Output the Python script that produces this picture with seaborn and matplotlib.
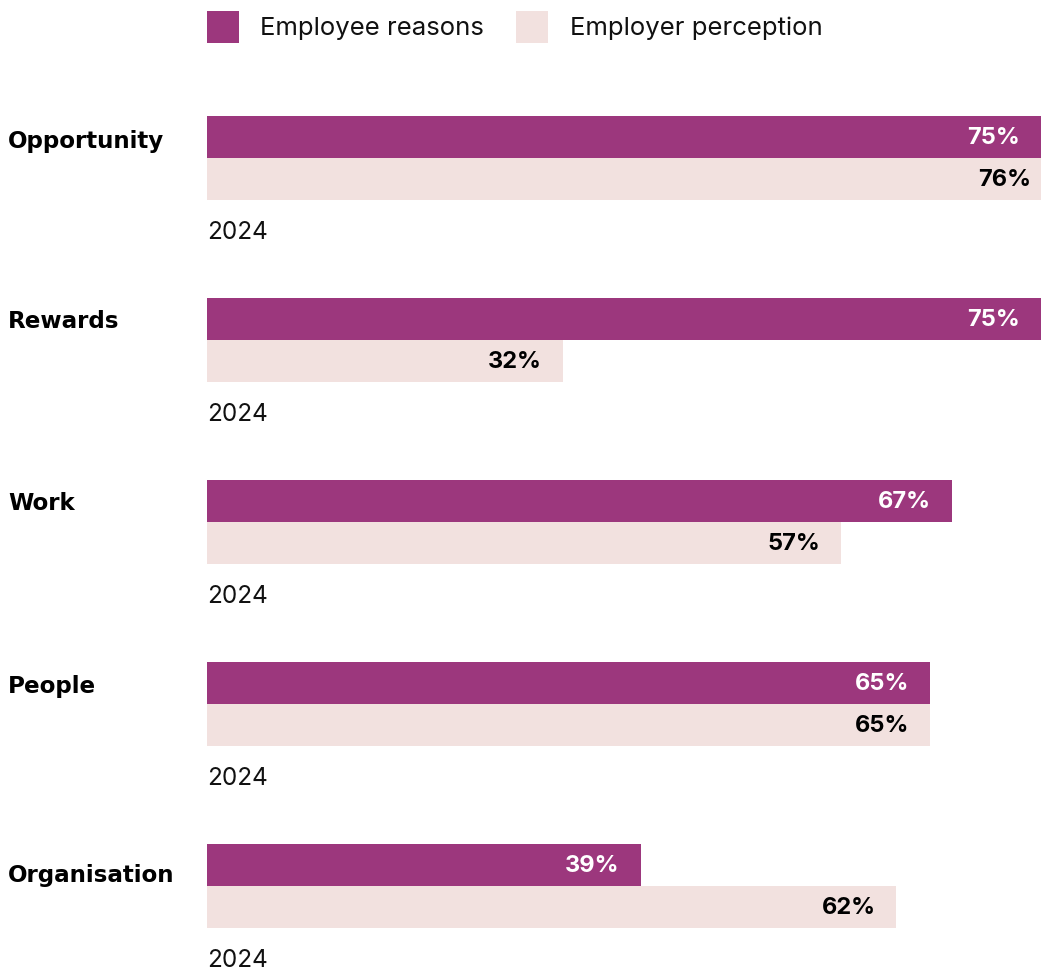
import matplotlib
matplotlib.use("Agg")
import matplotlib.pyplot as plt
import matplotlib.transforms as mtransforms
from matplotlib.patches import Rectangle
import pandas as pd
import seaborn as sns

# Reasons for leaving: what employees say vs. what employers believe
categories = ["Opportunity", "Rewards", "Work", "People", "Organisation"]
employee_reasons = [75, 75, 67, 65, 39]
employer_perception = [76, 32, 57, 65, 62]
series_names = ["Employee reasons", "Employer perception"]
year_label = "2024"

PURPLE = "#9C377D"
PINK = "#F2E1DF"

sns.set_theme(style="white")
plt.rcParams["font.family"] = ["Inter", "DejaVu Sans"]

W, H = 1041, 970
fig = plt.figure(figsize=(W / 100, H / 100), dpi=100)

# axis spans the plotting strip to the right of the category labels
ax = fig.add_axes([207 / W, 0, 834 / W, 1])

df = pd.DataFrame({
    "category": categories * 2,
    "value": employee_reasons + employer_perception,
    "series": [series_names[0]] * len(categories) + [series_names[1]] * len(categories),
})

step = 182.1
sns.barplot(
    data=df, y="category", x="value", hue="series", order=categories,
    hue_order=series_names, palette=[PURPLE, PINK], orient="h",
    width=84 / step, dodge=True, saturation=1, linewidth=0, legend=False, ax=ax,
)

ax.set_xlim(0, 75)
top = 158.6
ax.set_ylim((H - top) / step, -top / step)
ax.axis("off")

half = 21 / step  # half of a single bar's thickness in category units
px = 1 / step

# baseline of each row title, measured in pixels below the top of its first bar
title_baseline = [31.7, 29.7, 29.3, 30.3, 36.7]

fig_x = mtransforms.blended_transform_factory(fig.transFigure, ax.transData)
for i, cat in enumerate(categories):
    emp_y = i - half
    per_y = i + half
    ax.annotate(f"{employee_reasons[i]}%", xy=(employee_reasons[i], emp_y),
                xytext=(-21 * 0.72, 0), textcoords="offset points",
                ha="right", va="center", fontsize=17, fontweight="bold",
                color="white", annotation_clip=False)
    ax.annotate(f"{employer_perception[i]}%", xy=(employer_perception[i], per_y),
                xytext=(-21 * 0.72, 0), textcoords="offset points",
                ha="right", va="center", fontsize=17, fontweight="bold",
                color="black", annotation_clip=False)
    ax.text(8 / W, i - 2 * half + title_baseline[i] * px, cat, transform=fig_x,
            ha="left", va="baseline", fontsize=16.6, fontweight="bold",
            color="black", family=["DejaVu Sans"])
    ax.text(0, i + 2 * half + 38.5 * px, year_label, ha="left", va="baseline",
            fontsize=17.5, color="#111111", clip_on=False)

# legend row along the top
for sx, tx, color, label in [(207, 260, PURPLE, series_names[0]),
                             (516, 570, PINK, series_names[1])]:
    fig.add_artist(Rectangle((sx / W, 1 - 44 / H), 32 / W, 32 / H,
                             transform=fig.transFigure, facecolor=color,
                             edgecolor="none"))
    fig.text(tx / W, 1 - 35 / H, label, ha="left", va="baseline",
             fontsize=18.5, color="#111111")

fig.savefig("out.png", dpi=100, facecolor="white")
